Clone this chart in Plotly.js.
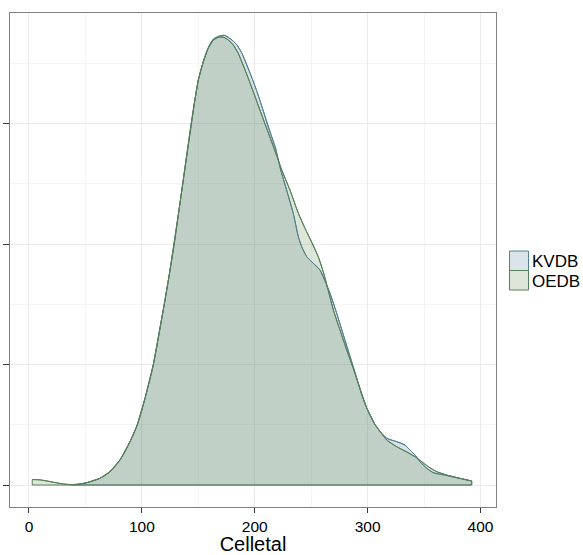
<!DOCTYPE html>
<html>
<head>
<meta charset="utf-8">
<script src="https://cdn.plot.ly/plotly-3.0.1.min.js"></script>
<style>
  html, body { margin: 0; padding: 0; background: #ffffff; }
  #chart { width: 583px; height: 555px; }
</style>
</head>
<body>
<div id="chart"></div>
<script>
// Density estimates (x = Celletal, y = density)
const seriesNames = ["KVDB", "OEDB"];

const oedbX = [2.9, 9.7, 18.6, 30.1, 40.8, 51.1, 62.9, 71.7, 80.6, 89.5, 95.9, 102.8, 110.1, 115.2, 119.9, 124.4, 128.7, 132.4, 136.2, 139.6, 143.0, 146.4, 150.0, 154.4, 158.8, 163.3, 168.6, 172.7, 176.6, 181.0, 185.4, 189.8, 194.3, 198.7, 204.6, 210.6, 217.9, 223.9, 231.2, 238.6, 244.5, 250.4, 256.3, 260.7, 265.1, 269.6, 275.5, 281.4, 287.3, 291.7, 295.0, 299.2, 303.6, 306.5, 311.0, 316.9, 325.7, 334.6, 342.0, 347.9, 353.7, 361.2, 370.0, 381.8, 392.2];
const oedbY = [0.000091, 0.000086, 0.000058, 0.000017, 0.000003, 0.000038, 0.000111, 0.000221, 0.000415, 0.000719, 0.000996, 0.001439, 0.001992, 0.002506, 0.003004, 0.003502, 0.004000, 0.004498, 0.004996, 0.005461, 0.005909, 0.006324, 0.006722, 0.007026, 0.007248, 0.007386, 0.007436, 0.007431, 0.007386, 0.007303, 0.007165, 0.006971, 0.006750, 0.006528, 0.006224, 0.005920, 0.005560, 0.005228, 0.004896, 0.004510, 0.004261, 0.004038, 0.003789, 0.003540, 0.003237, 0.002905, 0.002573, 0.002241, 0.001937, 0.001688, 0.001486, 0.001278, 0.001104, 0.001004, 0.000888, 0.000747, 0.000636, 0.000553, 0.000470, 0.000387, 0.000304, 0.000221, 0.000166, 0.000111, 0.000066];

const kvdbX = [39.0, 45.2, 51.1, 62.9, 71.7, 80.6, 89.5, 95.9, 102.8, 110.1, 115.2, 119.9, 124.4, 128.7, 132.4, 136.2, 139.6, 143.0, 146.4, 150.0, 154.4, 158.8, 163.3, 168.6, 173.6, 179.8, 184.3, 188.7, 193.1, 197.6, 202.0, 207.3, 212.2, 218.4, 223.0, 228.3, 234.1, 238.6, 241.6, 246.0, 251.9, 257.8, 263.7, 266.7, 272.6, 279.9, 287.3, 291.7, 295.0, 299.2, 303.6, 306.5, 311.0, 316.9, 325.7, 333.1, 337.5, 342.0, 346.4, 352.3, 358.2, 364.1, 373.0, 381.8, 392.2];
const kvdbY = [0.000008, 0.000017, 0.000038, 0.000111, 0.000221, 0.000415, 0.000719, 0.000996, 0.001439, 0.001992, 0.002506, 0.003004, 0.003502, 0.004000, 0.004498, 0.004996, 0.005461, 0.005909, 0.006324, 0.006722, 0.007026, 0.007260, 0.007400, 0.007452, 0.007461, 0.007386, 0.007303, 0.007165, 0.006971, 0.006750, 0.006528, 0.006224, 0.005920, 0.005593, 0.005228, 0.004896, 0.004510, 0.004121, 0.003955, 0.003789, 0.003680, 0.003569, 0.003320, 0.003182, 0.002850, 0.002407, 0.001964, 0.001688, 0.001486, 0.001278, 0.001104, 0.001004, 0.000888, 0.000775, 0.000719, 0.000664, 0.000581, 0.000498, 0.000387, 0.000277, 0.000204, 0.000178, 0.000149, 0.000111, 0.000066];

const xTicks = [0, 100, 200, 300, 400];

const fills = ["rgba(70,120,140,0.2)", "rgba(90,130,70,0.2)"];
const lines = ["rgb(84,130,150)", "rgb(88,128,88)"];

// polygon closed along the baseline, like a density area
function closed(xs, ys) {
  const x = [xs[0]].concat(xs, [xs[xs.length - 1], xs[0]]);
  const y = [0].concat(ys, [0, 0]);
  return {x, y};
}

function densityTraces(xs, ys, i) {
  const c = closed(xs, ys);
  return [
    {x: c.x, y: c.y, name: seriesNames[i], type: "scatter", mode: "lines",
     fill: "toself", fillcolor: fills[i], line: {color: lines[i], width: 1}, showlegend: false},
    {x: xs, y: ys, type: "scatter", mode: "lines", showlegend: false,
     line: {color: lines[i], width: 1, shape: "spline", smoothing: 1}}
  ];
}

const traces = densityTraces(kvdbX, kvdbY, 0).concat(densityTraces(oedbX, oedbY, 1));

// manual legend (square keys)
const pw = 486, ph = 494, L = 10, T = 13;
const px = v => (v - L) / pw;
const py = v => (T + ph - v) / ph;
const shapes = [
  {type: "rect", xref: "paper", yref: "paper", x0: px(509.5), x1: px(528.5), y0: py(270.5), y1: py(251),
   fillcolor: fills[0], line: {color: lines[0], width: 1}},
  {type: "rect", xref: "paper", yref: "paper", x0: px(509.5), x1: px(528.5), y0: py(290), y1: py(270.5),
   fillcolor: fills[1], line: {color: lines[1], width: 1}}
];
const annotations = [
  {xref: "paper", yref: "paper", x: px(530), y: py(261), xanchor: "left", yanchor: "middle",
   text: seriesNames[0], showarrow: false, font: {size: 17, color: "#000"}},
  {xref: "paper", yref: "paper", x: px(530), y: py(281), xanchor: "left", yanchor: "middle",
   text: seriesNames[1], showarrow: false, font: {size: 17, color: "#000"}}
];

const layout = {
  width: 583, height: 555,
  margin: {l: 10, r: 87, t: 13, b: 48, pad: 0},
  paper_bgcolor: "#ffffff", plot_bgcolor: "#ffffff",
  font: {family: "Liberation Sans, Arial, sans-serif", color: "#000"},
  showlegend: false,
  xaxis: {
    range: [-16.8, 413.7], tickmode: "array", tickvals: xTicks, ticktext: xTicks.map(String),
    ticks: "outside", ticklen: 5, tickcolor: "#333", tickwidth: 1,
    showline: true, mirror: true, linecolor: "#7f7f7f", linewidth: 1,
    showgrid: true, gridcolor: "#ebebeb", gridwidth: 1, zeroline: false,
    minor: {tick0: 0, dtick: 50, showgrid: true, gridcolor: "#f5f5f5", gridwidth: 1, ticks: ""},
    tickfont: {size: 15.5, color: "#000"},
    title: {text: "Celletal", font: {size: 20, color: "#000"}, standoff: 5},
    automargin: false
  },
  yaxis: {
    range: [-0.000365, 0.007834], tickmode: "linear", tick0: 0, dtick: 0.002,
    showticklabels: false, ticks: "outside", ticklen: 6, tickcolor: "#333", tickwidth: 1,
    showline: true, mirror: true, linecolor: "#7f7f7f", linewidth: 1,
    showgrid: true, gridcolor: "#ebebeb", gridwidth: 1, zeroline: false,
    minor: {tick0: 0, dtick: 0.001, showgrid: true, gridcolor: "#f5f5f5", gridwidth: 1, ticks: ""},
    automargin: false
  },
  shapes: shapes,
  annotations: annotations
};

Plotly.newPlot("chart", traces, layout, {displayModeBar: false, staticPlot: true});
</script>
</body>
</html>
